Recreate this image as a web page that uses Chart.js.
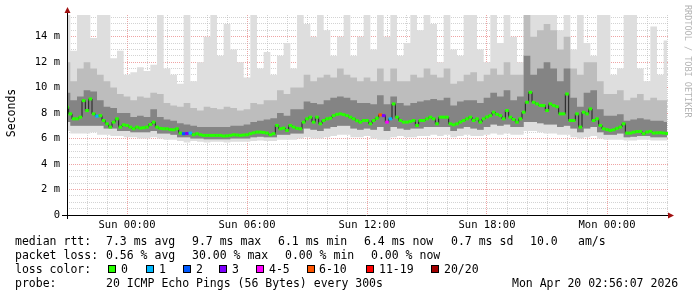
<!DOCTYPE html>
<html>
<head>
<meta charset="utf-8">
<script src="https://cdn.jsdelivr.net/npm/chart.js@4/dist/chart.umd.min.js"></script>
<style>
  html, body { margin: 0; padding: 0; background: #fff; }
  #wrap { position: relative; width: 697px; height: 297px; overflow: hidden; background: #fff; }
  #c { position: absolute; left: 0; top: 0; width: 697px; height: 297px; }
  .t { position: absolute; font-family: 'DejaVu Sans Mono', monospace; font-size: 11.5px; line-height: 14px; white-space: pre; color: #000; }
  .box { position: absolute; width: 8px; height: 8px; box-sizing: border-box; border: 1px solid #000; }
  #ylab { position: absolute; left: -29px; top: 106px; width: 80px; height: 14px; text-align: center; transform: rotate(-90deg); font-family: 'DejaVu Sans Mono', monospace; font-size: 11.5px; line-height: 14px; color: #000; }
  #wm { position: absolute; left: 683px; top: 5px; writing-mode: vertical-rl; font-family: 'DejaVu Sans Mono', monospace; font-size: 8.5px; line-height: 10px; color: #b4b4b4; white-space: pre; }
</style>
</head>
<body>
<div id="wrap">
  <canvas id="c" width="697" height="297"></canvas>
  <div id="ylab">Seconds</div>
  <div id="wm">RRDTOOL / TOBI OETIKER</div>
  <div id="legend"></div>
</div>
<script>
// ---------- DATA ----------
// x axis: hours relative to Sun 00:00
const xTickHours  = [0, 6, 12, 18, 24];
const xTickLabels = ['Sun 00:00', 'Sun 06:00', 'Sun 12:00', 'Sun 18:00', 'Mon 00:00'];
const yTickValues = [0, 2, 4, 6, 8, 10, 12, 14];
const yTickLabels = ['0', '2 m', '4 m', '6 m', '8 m', '10 m', '12 m', '14 m'];

const startHour = -3;          // Sat 21:00
const medianStepHours = 1 / 6; // 10 minute samples
const smokeStepHours = 1 / 3;  // 20 minute samples

// median RTT (ms), 10-min samples
const medianRtt = [
 8.46,7.94,7.55,7.55,7.68,8.98,8.2,9.11,7.94,7.76,
 7.8,7.42,7.16,6.9,7.29,7.55,6.9,7.08,7.03,6.9,
 6.77,6.9,6.82,6.85,6.9,7.1,7.29,6.9,6.8,6.77,
 6.77,6.7,6.69,6.77,6.43,6.38,6.4,6.43,6.3,6.38,
 6.3,6.25,6.25,6.25,6.25,6.25,6.25,6.2,6.22,6.25,
 6.3,6.28,6.25,6.28,6.3,6.38,6.45,6.51,6.51,6.48,
 6.43,6.3,6.38,7.03,6.77,6.82,6.64,7.03,6.9,6.8,
 6.77,7.29,7.55,7.68,7.29,7.68,7.16,7.42,7.55,7.6,
 7.8,7.9,7.94,7.88,7.8,7.68,7.55,7.4,7.29,7.42,
 7.42,7.16,7.42,7.6,7.86,7.8,7.29,7.55,8.72,7.68,
 7.42,7.29,7.29,7.35,7.42,7.03,7.42,7.42,7.55,7.68,
 7.55,7.16,7.68,7.68,7.68,7.16,7.08,7.16,7.3,7.42,
 7.55,7.68,7.42,7.55,7.29,7.55,7.7,7.8,8.07,7.9,
 7.8,7.55,8.2,7.68,7.5,7.29,7.55,8.07,8.85,9.63,
 8.85,8.72,8.6,8.59,8.2,8.72,8.59,8.5,7.94,7.94,
 9.5,7.42,7.42,7.94,6.9,8.07,7.94,8.33,7.42,7.55,
 7.03,6.77,6.7,6.64,6.69,6.8,6.9,7.16,6.43,6.43,
 6.5,6.55,6.56,6.38,6.51,6.56,6.43,6.45,6.46,6.43,
 6.4
];
// loss category per median sample (index into lossColors)
const lossIdx = [
 0,0,0,0,0,0,0,0,0,1,
 0,0,0,0,0,0,0,0,0,0,
 0,0,0,0,0,0,0,0,0,0,
 0,0,0,0,0,2,3,1,0,0,
 0,0,0,0,0,0,0,0,0,0,
 0,0,0,0,0,0,0,0,0,0,
 0,0,0,0,0,0,0,0,0,0,
 0,0,0,0,0,0,0,0,0,0,
 0,0,0,0,0,0,0,0,0,0,
 0,0,0,0,5,3,4,1,0,0,
 0,0,0,0,0,0,0,0,0,0,
 0,0,0,0,0,0,0,0,0,0,
 0,0,0,0,0,0,0,0,0,0,
 0,0,0,0,0,0,0,0,0,0,
 0,0,0,0,0,0,0,0,0,0,
 0,0,0,0,0,0,0,0,0,0,
 0,0,0,0,0,0,0,0,0,0,
 0,0,0,0,0,0,0,0,0,0,
 0
];
const lossLabels = ['0', '1', '2', '3', '4-5', '6-10', '11-19', '20/20'];
const lossColors = ['#26ff00', '#00b8ff', '#0059ff', '#7e00ff', '#ff00ff', '#ff5500', '#ff0000', '#a10000'];

// smoke envelope (ms), 20-min samples
const smokeMin = [
 6.6,6.4,6.4,6.4,6.5,6.3,6.3,6.2,6.2,6.1,
 6.1,6.0,6.0,6.1,6.0,5.9,5.9,5.8,5.7,5.8,
 5.75,5.7,5.75,5.75,5.7,5.75,5.75,5.75,5.8,5.85,
 5.8,5.8,5.9,5.9,5.9,6.0,6.1,6.0,6.0,6.1,
 6.2,6.3,6.3,6.1,6.1,6.2,6.0,5.9,5.9,6.1,
 6.2,6.1,6.1,6.2,6.2,6.3,6.2,6.3,6.1,6.2,
 6.3,6.2,6.2,6.3,6.4,6.3,6.4,6.3,6.3,6.6,
 6.6,6.5,6.4,6.4,6.3,6.3,6.1,6.0,6.1,6.2,
 6.0,5.9,5.9,5.9,5.85,5.85,5.9,5.9,5.85,5.85,
 5.85
];
const smokeLow = [
 7.3,7.0,7.0,7.0,7.0,7.0,6.8,6.8,6.6,6.6,
 6.5,6.5,6.5,6.6,6.4,6.4,6.3,6.1,6.1,6.0,
 6.0,5.95,5.95,5.95,5.95,6.0,6.0,6.0,6.1,6.15,
 6.1,6.1,6.3,6.3,6.4,6.4,6.8,6.7,6.6,6.8,
 6.9,7.0,7.0,6.8,6.7,6.8,6.7,6.9,6.6,6.9,
 6.8,6.7,6.8,6.8,6.9,6.9,6.9,6.9,6.6,6.8,
 6.9,6.8,6.7,6.9,7.1,7.0,7.1,6.9,6.9,7.3,
 7.3,7.2,7.1,7.1,6.9,7.0,6.8,6.5,6.8,6.9,
 6.5,6.3,6.3,6.4,6.1,6.15,6.2,6.2,6.1,6.1,
 6.1
];
const smokeDarkTop = [
 9.6,9.0,9.3,9.8,9.7,9.0,8.5,8.4,8.0,8.0,
 7.7,7.8,7.7,8.3,7.7,7.5,7.4,7.2,7.1,7.0,
 6.9,6.9,6.9,6.9,6.9,7.0,7.0,7.1,7.3,7.4,
 7.5,7.6,8.0,7.8,8.3,8.3,8.9,8.8,8.7,9.0,
 9.2,9.3,9.2,9.0,8.8,8.8,8.7,9.4,8.7,9.3,
 8.8,8.6,8.8,8.9,9.0,9.1,9.0,9.2,8.6,8.9,
 9.0,9.0,8.8,9.2,9.6,9.3,9.8,9.0,9.3,12.5,
 11.0,11.5,12.0,11.5,10.5,11.5,9.2,8.5,9.6,9.8,
 8.3,7.8,7.8,7.9,7.4,7.5,7.6,7.5,7.4,7.4,
 7.3
];
const smokeMidTop = [
 12.0,10.5,11.5,12.0,11.5,11.0,10.5,10.0,9.5,9.3,
 9.0,9.3,9.2,9.6,9.5,8.8,8.6,8.5,8.8,8.4,
 8.2,8.5,8.4,8.3,8.5,8.4,8.2,8.3,8.8,8.7,
 9.0,9.0,9.8,9.5,10.0,10.0,11.0,10.5,10.8,11.0,
 10.8,11.5,11.0,10.8,10.5,10.8,10.5,11.5,10.5,11.5,
 10.5,10.5,11.0,10.8,11.5,11.0,10.8,11.5,10.3,10.5,
 11.0,11.2,10.5,11.0,11.5,11.0,12.0,11.0,11.0,15.7,
 14.0,14.5,15.0,14.5,13.0,14.0,11.5,11.0,12.0,12.0,
 10.5,9.5,9.5,9.8,9.0,9.2,9.5,9.0,9.2,9.0,
 9.0
];
const smokeMax = [
 15.7,12.9,15.7,15.7,13.9,15.7,15.7,12.3,12.9,11.0,
 11.2,11.6,11.3,11.8,15.7,11.5,11.0,10.3,15.7,10.5,
 12.0,14.0,15.7,12.5,15.0,13.0,12.0,10.8,15.7,11.5,
 12.8,11.0,12.5,13.5,11.5,15.7,15.0,14.0,15.7,14.5,
 12.5,14.0,15.7,12.5,14.0,15.7,13.0,15.7,14.0,15.7,
 12.5,13.5,15.7,14.5,15.7,15.0,12.0,15.7,13.0,12.5,
 15.7,15.7,13.0,12.0,15.7,13.5,15.7,14.0,12.0,15.7,
 15.7,15.7,15.7,15.7,14.5,15.7,13.0,15.7,13.5,12.5,
 15.7,15.7,11.0,11.5,15.7,15.7,11.5,10.5,14.8,11.0,
 13.7
];

// legend text
const legendRows = [
  { y: 234, items: [[15, 'median rtt:'], [106, '7.3 ms avg'], [192, '9.7 ms max'], [278, '6.1 ms min'], [364, '6.4 ms now'], [451, '0.7 ms sd'], [530, '10.0'], [578, 'am/s']] },
  { y: 248, items: [[15, 'packet loss:'], [106, '0.56 % avg'], [192, '30.00 % max'], [285, '0.00 % min'], [371, '0.00 % now']] },
  { y: 262, items: [[15, 'loss color:']] },
  { y: 276, items: [[15, 'probe:'], [106, '20 ICMP Echo Pings (56 Bytes) every 300s'], [512, 'Mon Apr 20 02:56:07 2026']] }
];
const lossBoxX = [108, 146, 183, 219, 256, 307, 366, 431];
const lossTextX = [121, 159, 196, 232, 269, 319, 379, 444];

// ---------- LEGEND (HTML text) ----------
const lg = document.getElementById('legend');
legendRows.forEach(r => r.items.forEach(([x, s]) => {
  const d = document.createElement('div');
  d.className = 't'; d.style.left = x + 'px'; d.style.top = r.y + 'px'; d.textContent = s;
  lg.appendChild(d);
}));
lossLabels.forEach((s, k) => {
  const b = document.createElement('div');
  b.className = 'box'; b.style.left = lossBoxX[k] + 'px'; b.style.top = '265px'; b.style.background = lossColors[k];
  lg.appendChild(b);
  const d = document.createElement('div');
  d.className = 't'; d.style.left = lossTextX[k] + 'px'; d.style.top = '262px'; d.textContent = s;
  lg.appendChild(d);
});

// ---------- CHART ----------
const medPts = medianRtt.map((v, i) => ({ x: startHour + i * medianStepHours, y: v }));
const sm = arr => arr.map((v, j) => ({ x: startHour + j * smokeStepHours, y: v }));

const band = (data, fill, color, order) => ({
  data, fill, order, backgroundColor: color, borderWidth: 0, borderColor: 'rgba(0,0,0,0)',
  pointRadius: 0, stepped: 'middle', tension: 0
});

const axesPlugin = {
  id: 'rrdAxes',
  afterDraw(chart) {
    const { ctx, chartArea: a } = chart;
    ctx.save();
    ctx.strokeStyle = '#000';
    ctx.lineWidth = 1;
    ctx.beginPath();
    ctx.moveTo(62, Math.round(a.bottom) + 0.5);
    ctx.lineTo(a.right + 3, Math.round(a.bottom) + 0.5);
    ctx.moveTo(Math.round(a.left) + 0.5, a.bottom + 4);
    ctx.lineTo(Math.round(a.left) + 0.5, a.top - 4);
    ctx.stroke();
    ctx.fillStyle = '#a01010';
    const L = Math.round(a.left) + 0.5, B = Math.round(a.bottom) + 0.5;
    ctx.beginPath();
    ctx.moveTo(L - 3, a.top - 2); ctx.lineTo(L + 3, a.top - 2); ctx.lineTo(L, a.top - 8); ctx.closePath(); ctx.fill();
    ctx.beginPath();
    ctx.moveTo(a.right, B - 3); ctx.lineTo(a.right, B + 3); ctx.lineTo(a.right + 6, B); ctx.closePath(); ctx.fill();
    ctx.restore();
  }
};

const majorGrid = 'rgba(225,90,90,0.55)';
const minorGrid = 'rgba(175,175,175,0.55)';

new Chart(document.getElementById('c'), {
  type: 'line',
  data: {
    datasets: [
      band(sm(smokeMin), false, 'rgba(0,0,0,0)', 11),          // 0
      band(sm(smokeMax), 0, '#dedede', 10),                     // 1
      band(sm(smokeLow), false, 'rgba(0,0,0,0)', 9),            // 2
      band(sm(smokeMidTop), 2, '#bdbdbd', 8),                   // 3
      band(sm(smokeDarkTop), 2, '#848484', 7),                  // 4
      { data: medPts, order: 2, borderColor: '#202020', borderWidth: 1, pointRadius: 0, stepped: 'middle', fill: false },
      { data: medPts, order: 1, showLine: false, pointStyle: 'line', pointRadius: 1.8, pointBorderWidth: 3,
        pointBorderColor: c => lossColors[lossIdx[c.dataIndex]], pointBackgroundColor: c => lossColors[lossIdx[c.dataIndex]] }
    ]
  },
  options: {
    animation: false,
    responsive: false,
    events: [],
    layout: { padding: { top: 15, right: 29, bottom: 62, left: 0 } },
    plugins: { legend: { display: false }, tooltip: { enabled: false } },
    scales: {
      x: {
        type: 'linear', min: -3, max: 27.05, z: 1,
        afterFit: s => { s.height = 20; },
        border: { display: false, dash: [1, 1] },
        grid: { drawTicks: false, lineWidth: 1,
                color: c => (xTickHours.includes(c.tick.value) ? majorGrid : minorGrid) },
        ticks: { stepSize: 1, autoSkip: false, includeBounds: false, maxRotation: 0, padding: 4,
                 color: '#000', font: { family: 'DejaVu Sans Mono', size: 10.5 },
                 callback: v => { const k = xTickHours.indexOf(v); return k >= 0 ? xTickLabels[k] : ''; } }
      },
      y: {
        min: 0, max: 15.7, z: 1,
        afterFit: s => { s.width = 67; },
        border: { display: false, dash: [1, 1] },
        grid: { drawTicks: false, lineWidth: 1,
                color: c => (yTickValues.includes(c.tick.value) ? majorGrid : minorGrid) },
        ticks: { stepSize: 0.5, autoSkip: false, includeBounds: false, padding: 7,
                 color: '#000', font: { family: 'DejaVu Sans Mono', size: 10.5 },
                 callback: v => { const k = yTickValues.indexOf(v); return k >= 0 ? yTickLabels[k] : ''; } }
      }
    }
  },
  plugins: [axesPlugin]
});
</script>
</body>
</html>
